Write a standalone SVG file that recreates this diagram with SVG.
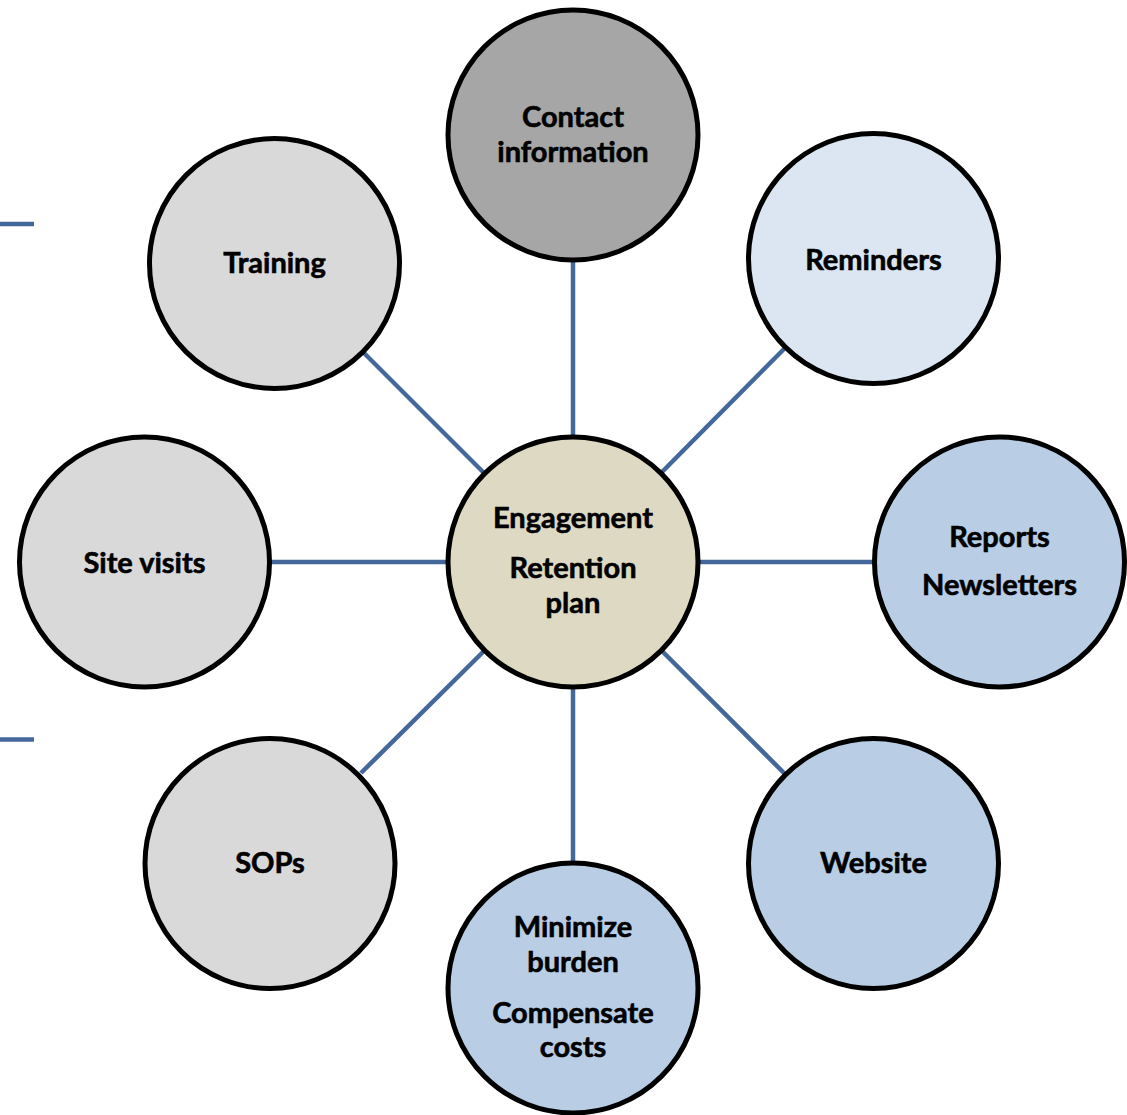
<svg xmlns="http://www.w3.org/2000/svg" width="1127" height="1115" viewBox="0 0 1127 1115">
  <style>
    .node { stroke: #000; stroke-width: 5; }
    .link { stroke: #44689b; stroke-width: 4.5; fill: none; }
    .label { font-family: Lato, "Open Sans", "Liberation Sans", sans-serif; font-weight: bold; font-size: 29px; fill: #000; stroke: #000; stroke-width: 0.6; text-anchor: middle; }
    .gray-dark { fill: #a6a6a6; }
    .gray { fill: #d9d9d9; }
    .blue-light { fill: #dce6f2; }
    .blue { fill: #b9cde5; }
    .tan { fill: #ddd9c3; }
  </style>
  <rect width="1127" height="1115" fill="#fff"/>

  <!-- short rules at the left margin -->
  <g id="margin-rules">
    <line class="link" x1="0" y1="224" x2="34" y2="224" stroke-width="5"/>
    <line class="link" x1="0" y1="739.5" x2="34" y2="739.5" stroke-width="5"/>
  </g>

  <!-- spokes from the hub to each satellite -->
  <g id="connectors">
    <line class="link" x1="573" y1="262" x2="573" y2="437"/>
    <line class="link" x1="364" y1="353" x2="485" y2="474"/>
    <line class="link" x1="784" y1="349" x2="661" y2="473"/>
    <line class="link" x1="270" y1="562" x2="447" y2="562"/>
    <line class="link" x1="699" y1="562" x2="874" y2="562"/>
    <line class="link" x1="361" y1="773" x2="485" y2="650"/>
    <line class="link" x1="785" y1="774" x2="661" y2="650"/>
    <line class="link" x1="573" y1="688" x2="573" y2="863"/>
  </g>

  <g id="hub">
    <circle class="node tan" cx="573" cy="562" r="125"/>
    <text class="label" x="573" y="528">Engagement</text>
    <text class="label" x="573" y="578">Retention</text>
    <text class="label" x="573" y="613">plan</text>
  </g>

  <g id="contact-information">
    <circle class="node gray-dark" cx="573" cy="135" r="125"/>
    <text class="label" x="573" y="127">Contact</text>
    <text class="label" x="573" y="162">information</text>
  </g>

  <g id="training">
    <circle class="node gray" cx="274.5" cy="263.5" r="125"/>
    <text class="label" x="274.5" y="273">Training</text>
  </g>

  <g id="reminders">
    <circle class="node blue-light" cx="873.5" cy="258.5" r="125"/>
    <text class="label" x="873.5" y="270">Reminders</text>
  </g>

  <g id="site-visits">
    <circle class="node gray" cx="144.5" cy="562" r="125"/>
    <text class="label" x="144.5" y="573">Site visits</text>
  </g>

  <g id="reports-newsletters">
    <circle class="node blue" cx="999.5" cy="562" r="125"/>
    <text class="label" x="999.5" y="547">Reports</text>
    <text class="label" x="999.5" y="595">Newsletters</text>
  </g>

  <g id="sops">
    <circle class="node gray" cx="270" cy="863.5" r="125"/>
    <text class="label" x="270" y="873">SOPs</text>
  </g>

  <g id="website">
    <circle class="node blue" cx="873.5" cy="863.5" r="125"/>
    <text class="label" x="873.5" y="873">Website</text>
  </g>

  <g id="minimize-burden">
    <circle class="node blue" cx="573" cy="988" r="125"/>
    <text class="label" x="573" y="937">Minimize</text>
    <text class="label" x="573" y="972">burden</text>
    <text class="label" x="573" y="1023">Compensate</text>
    <text class="label" x="573" y="1057">costs</text>
  </g>
</svg>
